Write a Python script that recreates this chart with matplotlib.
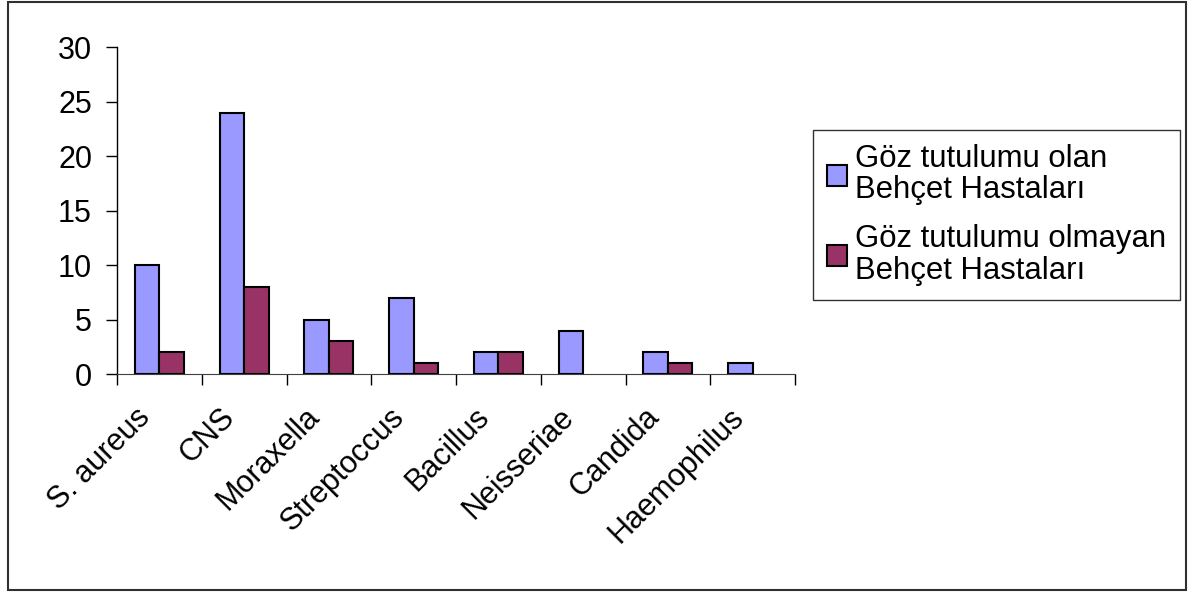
import numpy as np
import matplotlib
matplotlib.use('Agg')
import matplotlib.pyplot as plt
from matplotlib.patches import Rectangle
from matplotlib.transforms import ScaledTranslation

plt.rcParams['font.family'] = ['Liberation Sans', 'DejaVu Sans']

# organisms isolated and counts per patient group
organisms = ['S. aureus', 'CNS', 'Moraxella', 'Streptoccus', 'Bacillus',
             'Neisseriae', 'Candida', 'Haemophilus']
with_eye = [10, 24, 5, 7, 2, 4, 2, 1]
without_eye = [2, 8, 3, 1, 2, 0, 1, 0]
series_names = ['Göz tutulumu olan\nBehçet Hastaları',
                'Göz tutulumu olmayan\nBehçet Hastaları']

fig = plt.figure(figsize=(12, 5.92), dpi=100)
ax = fig.add_axes([0.0975, 0.368, 0.565, 0.5524])

x = np.arange(len(organisms))
w = 0.29
b1 = ax.bar(x - w/2, with_eye, w, color='#9999FF', edgecolor='black', lw=1.5,
            label=series_names[0])
b2 = ax.bar(x + w/2, without_eye, w, color='#993366', edgecolor='black', lw=1.5,
            label=series_names[1])
# empty categories get no outline
for bars in (b1, b2):
    for p in bars.patches:
        if p.get_height() == 0:
            p.set_linewidth(0)

ax.set_xlim(-0.5, len(organisms) - 0.5)
ax.set_ylim(0, 30)
ax.set_yticks(range(0, 31, 5))
ax.tick_params(axis='y', labelsize=22, length=8, width=1, pad=10)

# labels centred on each group, tick marks between groups
ax.set_xticks(x)
ax.set_xticklabels(organisms, rotation=45, ha='right', rotation_mode='anchor',
                   fontsize=22)
ax.tick_params(axis='x', which='major', length=0, pad=20)
shift = ScaledTranslation(-24/100, 0, fig.dpi_scale_trans)
for lbl in ax.get_xticklabels():
    lbl.set_transform(lbl.get_transform() + shift)
ax.set_xticks(np.arange(-0.5, len(organisms)), minor=True)
ax.tick_params(axis='x', which='minor', length=8, width=1)

for s in ['top', 'right']:
    ax.spines[s].set_visible(False)
ax.spines['left'].set_linewidth(1)
ax.spines['bottom'].set_color('#404040')

leg = fig.legend(loc='upper left', bbox_to_anchor=(0.6775, 0.7804),
                 fontsize=22.4, frameon=True, fancybox=False, handlelength=0.65,
                 handleheight=0.65, handletextpad=0.25, borderpad=0.45,
                 labelspacing=0.62, borderaxespad=0)
leg.get_frame().set_edgecolor('black')
leg.get_frame().set_linewidth(1)
for t in leg.get_texts():
    t.set_linespacing(1.05)

# chart area border
fig.patches.append(Rectangle((8/1200, 2/592), 1178/1200, 588/592,
                             transform=fig.transFigure, fill=False,
                             edgecolor='#303030', lw=1.5))

fig.savefig('out.png', dpi=100)
